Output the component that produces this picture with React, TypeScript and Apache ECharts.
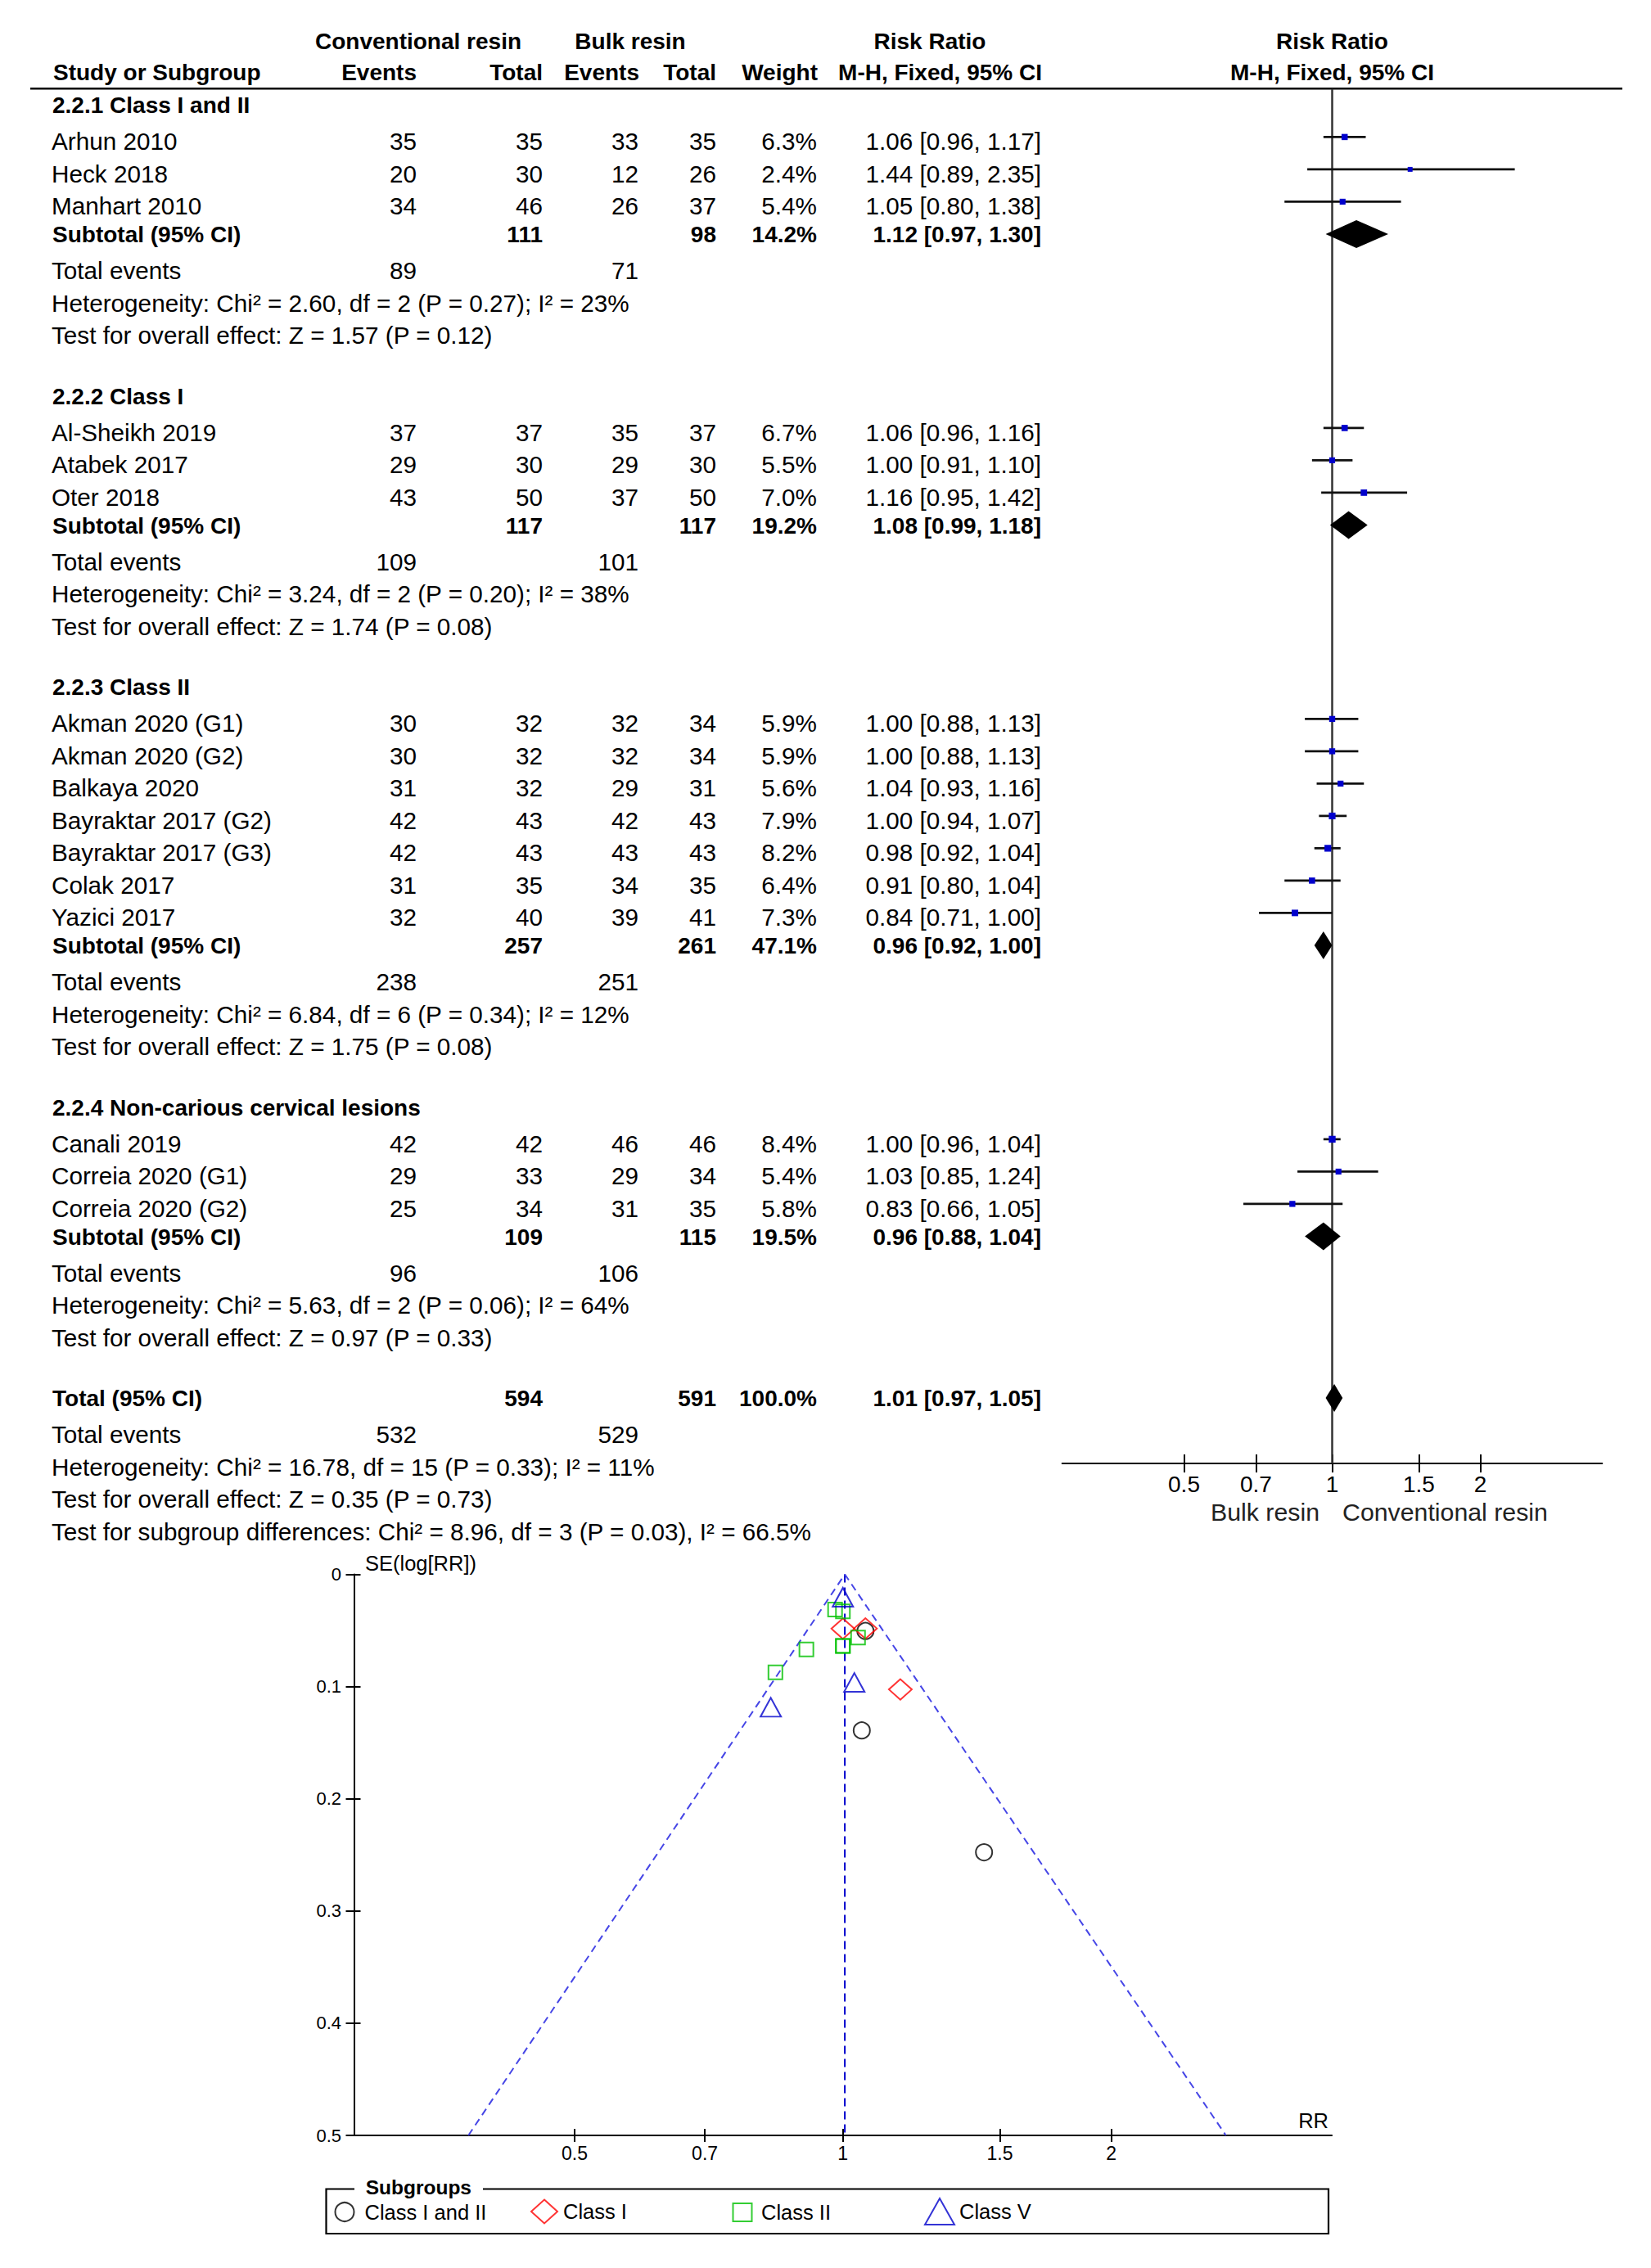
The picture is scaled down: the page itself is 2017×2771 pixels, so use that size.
import React, { useEffect, useRef } from "react";
import * as echarts from "echarts";

// ---------------- DATA ----------------
const GROUP_TITLES = [
  "2.2.1 Class I and II",
  "2.2.2 Class I",
  "2.2.3 Class II",
  "2.2.4 Non-carious cervical lesions",
];
const STUDY_NAMES = [
  "Arhun 2010", "Heck 2018", "Manhart 2010",
  "Al-Sheikh 2019", "Atabek 2017", "Oter 2018",
  "Akman 2020 (G1)", "Akman 2020 (G2)", "Balkaya 2020", "Bayraktar 2017 (G2)", "Bayraktar 2017 (G3)", "Colak 2017", "Yazici 2017",
  "Canali 2019", "Correia 2020 (G1)", "Correia 2020 (G2)",
];
const STUDY_GROUP = [0, 0, 0, 1, 1, 1, 2, 2, 2, 2, 2, 2, 2, 3, 3, 3];
const CONV_EVENTS = [35, 20, 34, 37, 29, 43, 30, 30, 31, 42, 42, 31, 32, 42, 29, 25];
const CONV_TOTAL = [35, 30, 46, 37, 30, 50, 32, 32, 32, 43, 43, 35, 40, 42, 33, 34];
const BULK_EVENTS = [33, 12, 26, 35, 29, 37, 32, 32, 29, 42, 43, 34, 39, 46, 29, 31];
const BULK_TOTAL = [35, 26, 37, 37, 30, 50, 34, 34, 31, 43, 43, 35, 41, 46, 34, 35];
const WEIGHTS = [6.3, 2.4, 5.4, 6.7, 5.5, 7.0, 5.9, 5.9, 5.6, 7.9, 8.2, 6.4, 7.3, 8.4, 5.4, 5.8];
const RR = [1.06, 1.44, 1.05, 1.06, 1.0, 1.16, 1.0, 1.0, 1.04, 1.0, 0.98, 0.91, 0.84, 1.0, 1.03, 0.83];
const CI_LO = [0.96, 0.89, 0.8, 0.96, 0.91, 0.95, 0.88, 0.88, 0.93, 0.94, 0.92, 0.8, 0.71, 0.96, 0.85, 0.66];
const CI_HI = [1.17, 2.35, 1.38, 1.16, 1.1, 1.42, 1.13, 1.13, 1.16, 1.07, 1.04, 1.04, 1.0, 1.04, 1.24, 1.05];

const SUB_CONV_TOTAL = [111, 117, 257, 109];
const SUB_BULK_TOTAL = [98, 117, 261, 115];
const SUB_WEIGHT = [14.2, 19.2, 47.1, 19.5];
const SUB_RR = [1.12, 1.08, 0.96, 0.96];
const SUB_LO = [0.97, 0.99, 0.92, 0.88];
const SUB_HI = [1.3, 1.18, 1.0, 1.04];
const SUB_CONV_EVENTS = [89, 109, 238, 96];
const SUB_BULK_EVENTS = [71, 101, 251, 106];
const SUB_HET = [
  "Heterogeneity: Chi² = 2.60, df = 2 (P = 0.27); I² = 23%",
  "Heterogeneity: Chi² = 3.24, df = 2 (P = 0.20); I² = 38%",
  "Heterogeneity: Chi² = 6.84, df = 6 (P = 0.34); I² = 12%",
  "Heterogeneity: Chi² = 5.63, df = 2 (P = 0.06); I² = 64%",
];
const SUB_TEST = [
  "Test for overall effect: Z = 1.57 (P = 0.12)",
  "Test for overall effect: Z = 1.74 (P = 0.08)",
  "Test for overall effect: Z = 1.75 (P = 0.08)",
  "Test for overall effect: Z = 0.97 (P = 0.33)",
];
const TOTAL_CONV = 594;
const TOTAL_BULK = 591;
const TOTAL_WEIGHT = 100.0;
const TOTAL_RR = 1.01;
const TOTAL_LO = 0.97;
const TOTAL_HI = 1.05;
const TOTAL_CONV_EVENTS = 532;
const TOTAL_BULK_EVENTS = 529;
const TOTAL_HET = "Heterogeneity: Chi² = 16.78, df = 15 (P = 0.33); I² = 11%";
const TOTAL_TEST = "Test for overall effect: Z = 0.35 (P = 0.73)";
const SUBGROUP_DIFF = "Test for subgroup differences: Chi² = 8.96, df = 3 (P = 0.03), I² = 66.5%";

const FOREST_TICKS = [0.5, 0.7, 1, 1.5, 2];
const FOREST_TICK_LABELS = ["0.5", "0.7", "1", "1.5", "2"];
const FUNNEL_X_TICKS = [0.5, 0.7, 1, 1.5, 2];
const FUNNEL_X_TICK_LABELS = ["0.5", "0.7", "1", "1.5", "2"];
const FUNNEL_SE_MAX = 0.5;
const FUNNEL_SE_STEP = 0.1;
const POOLED_RR = 1.005; // funnel apex
const FUNNEL_LIMIT_LO = 0.38; // RR at SE = 0.5, left limit
const FUNNEL_LIMIT_HI = 2.69; // RR at SE = 0.5, right limit

const SUBGROUP_NAMES = ["Class I and II", "Class I", "Class II", "Class V"];

// ---------------- STYLE / LAYOUT ----------------
const FONT = '"Liberation Sans", Arial, Helvetica, sans-serif';
const SUBGROUP_SYMBOLS = ["circle", "diamond", "rect", "triangle"];
const SUBGROUP_COLORS = ["#000000", "#ff0000", "#00c000", "#0000cc"];
const SUBGROUP_SIZES = [[20, 20], [28, 25], [17, 17], [25, 23]];
const LEGEND_ICON = [[25, 23], [32, 29], [23, 22], [36, 32]];
const LEGEND_CENTER_X = [421, 664, 906, 1147];
const LEGEND_TEXT_PAD = [7, 2, 6.5, 1];

const ROW0 = 167.4;
const PITCH = 39.5;
const YMIN = -1.5;
const YMAX = 41.03;
const rowY = (r: number) => ROW0 + PITCH * r;
const LN_MAX = 1.263;

const FOREST_LEFT = 1297.7;
const FOREST_W = 659.6;
const FOREST_TOP = rowY(YMIN);
const FOREST_H = (YMAX - YMIN) * PITCH;

const FUN_LEFT = 432.5;
const FUN_TOP = 1923.5;
const FUN_W = 1194.5;
const FUN_H = 685.5;

const COL = { name: 63, ce: 509, ct: 663, be: 780, bt: 875, w: 998, ci: 1272 };
const REG_SIZE = 29.7;
const BOLD_SIZE = 28;

const fmtCI = (r: number, lo: number, hi: number) => `${r.toFixed(2)} [${lo.toFixed(2)}, ${hi.toFixed(2)}]`;

function buildOption() {
  const texts: any[] = [];
  const addText = (text: string, x: number, y: number, o: any = {}) => {
    const align = o.align || "left";
    texts.push({
      type: "text",
      x,
      y,
      silent: true,
      style: {
        text,
        fill: o.color || "#000",
        fontSize: o.size || (o.bold ? BOLD_SIZE : REG_SIZE),
        fontWeight: o.bold ? "bold" : "normal",
        fontFamily: FONT,
        align,
        verticalAlign: "middle",
        textAlign: align,
        textVerticalAlign: "middle",
      },
    });
  };
  const REG = 5.5;
  const BLD = 1;

  // Headers
  addText("Conventional resin", 511, 50, { bold: true, align: "center" });
  addText("Bulk resin", 770, 50, { bold: true, align: "center" });
  addText("Risk Ratio", 1136, 50, { bold: true, align: "center" });
  addText("Risk Ratio", 1627.5, 50, { bold: true, align: "center" });
  addText("Study or Subgroup", 65, 88, { bold: true });
  addText("Events", COL.ce, 88, { bold: true, align: "right" });
  addText("Total", COL.ct, 88, { bold: true, align: "right" });
  addText("Events", COL.be + 1, 88, { bold: true, align: "right" });
  addText("Total", COL.bt, 88, { bold: true, align: "right" });
  addText("Weight", COL.w + 1, 88, { bold: true, align: "right" });
  addText("M-H, Fixed, 95% CI", COL.ci + 1, 88, { bold: true, align: "right" });
  addText("M-H, Fixed, 95% CI", 1627.5, 88, { bold: true, align: "center" });

  const studyData: any[] = [];
  const diamondData: any[] = [];
  let r = -1;
  for (let g = 0; g < GROUP_TITLES.length; g++) {
    addText(GROUP_TITLES[g], 64, rowY(r) + BLD, { bold: true });
    r++;
    for (let i = 0; i < STUDY_NAMES.length; i++) {
      if (STUDY_GROUP[i] !== g) continue;
      const y = rowY(r) + REG;
      addText(STUDY_NAMES[i], COL.name, y);
      addText(String(CONV_EVENTS[i]), COL.ce, y, { align: "right" });
      addText(String(CONV_TOTAL[i]), COL.ct, y, { align: "right" });
      addText(String(BULK_EVENTS[i]), COL.be, y, { align: "right" });
      addText(String(BULK_TOTAL[i]), COL.bt, y, { align: "right" });
      addText(`${WEIGHTS[i].toFixed(1)}%`, COL.w, y, { align: "right" });
      addText(fmtCI(RR[i], CI_LO[i], CI_HI[i]), COL.ci, y, { align: "right" });
      studyData.push([Math.log(CI_LO[i]), Math.log(CI_HI[i]), r, Math.log(RR[i]), WEIGHTS[i]]);
      r++;
    }
    const ys = rowY(r) + BLD;
    addText("Subtotal (95% CI)", 64, ys, { bold: true });
    addText(String(SUB_CONV_TOTAL[g]), COL.ct, ys, { bold: true, align: "right" });
    addText(String(SUB_BULK_TOTAL[g]), COL.bt, ys, { bold: true, align: "right" });
    addText(`${SUB_WEIGHT[g].toFixed(1)}%`, COL.w, ys, { bold: true, align: "right" });
    addText(fmtCI(SUB_RR[g], SUB_LO[g], SUB_HI[g]), COL.ci, ys, { bold: true, align: "right" });
    diamondData.push([Math.log(SUB_LO[g]), Math.log(SUB_RR[g]), Math.log(SUB_HI[g]), r]);
    r++;
    addText("Total events", COL.name, rowY(r) + REG);
    addText(String(SUB_CONV_EVENTS[g]), COL.ce, rowY(r) + REG, { align: "right" });
    addText(String(SUB_BULK_EVENTS[g]), COL.be, rowY(r) + REG, { align: "right" });
    r++;
    addText(SUB_HET[g], COL.name, rowY(r) + REG);
    r++;
    addText(SUB_TEST[g], COL.name, rowY(r) + REG);
    r++;
    r++; // blank
  }
  const yt = rowY(r) + BLD;
  addText("Total (95% CI)", 64, yt, { bold: true });
  addText(String(TOTAL_CONV), COL.ct, yt, { bold: true, align: "right" });
  addText(String(TOTAL_BULK), COL.bt, yt, { bold: true, align: "right" });
  addText(`${TOTAL_WEIGHT.toFixed(1)}%`, COL.w, yt, { bold: true, align: "right" });
  addText(fmtCI(TOTAL_RR, TOTAL_LO, TOTAL_HI), COL.ci, yt, { bold: true, align: "right" });
  diamondData.push([Math.log(TOTAL_LO), Math.log(TOTAL_RR), Math.log(TOTAL_HI), r]);
  r++;
  addText("Total events", COL.name, rowY(r) + REG);
  addText(String(TOTAL_CONV_EVENTS), COL.ce, rowY(r) + REG, { align: "right" });
  addText(String(TOTAL_BULK_EVENTS), COL.be, rowY(r) + REG, { align: "right" });
  r++;
  addText(TOTAL_HET, COL.name, rowY(r) + REG);
  r++;
  addText(TOTAL_TEST, COL.name, rowY(r) + REG);
  r++;
  addText(SUBGROUP_DIFF, COL.name, rowY(r) + REG);

  // forest axis captions
  addText("Bulk resin", 1612, 1847.5, { align: "right", color: "#222", size: 30.3 });
  addText("Conventional resin", 1640, 1847.5, { color: "#222", size: 30.3 });

  // funnel captions
  addText("SE(log[RR])", 446, 1910, { size: 25.5 });
  addText("RR", 1623, 2591, { size: 25.5, align: "right" });

  const graphics: any[] = [
    {
      type: "line",
      silent: true,
      shape: { x1: 37, y1: 108.3, x2: 1982, y2: 108.3 },
      style: { stroke: "#000", lineWidth: 2.5 },
    },
    {
      type: "rect",
      silent: true,
      shape: { x: 398.5, y: 2674.5, width: 1224.5, height: 54.5 },
      style: { fill: "none", stroke: "#000", lineWidth: 2.2 },
    },
    {
      type: "rect",
      silent: true,
      shape: { x: 433, y: 2670, width: 157, height: 9 },
      style: { fill: "#fff" },
    },
    ...texts,
    {
      type: "text",
      x: 446.7,
      y: 2672.3,
      silent: true,
      style: {
        text: "Subgroups",
        fill: "#000",
        fontSize: 24.5,
        fontWeight: "bold",
        fontFamily: FONT,
        align: "left",
        verticalAlign: "middle",
        textAlign: "left",
        textVerticalAlign: "middle",
      },
    },
  ];

  const forestTickVals = FOREST_TICKS.map((t) => Math.log(t));
  const funnelTickVals = FUNNEL_X_TICKS.map((t) => Math.log(t));
  const labelFrom = (vals: number[], labels: string[]) => (v: number) => {
    const i = vals.findIndex((t) => Math.abs(t - v) < 1e-6);
    return i >= 0 ? labels[i] : "";
  };

  const gridBase = { containLabel: false, outerBoundsMode: "none" } as any;

  const funnelSeries = SUBGROUP_NAMES.map((name, g) => ({
    type: "scatter",
    name,
    xAxisIndex: 2,
    yAxisIndex: 2,
    symbol: SUBGROUP_SYMBOLS[g],
    symbolSize: SUBGROUP_SIZES[g],
    itemStyle: { color: "rgba(0,0,0,0)", borderColor: SUBGROUP_COLORS[g], borderWidth: 2 },
    emphasis: { disabled: true },
    data: STUDY_NAMES.map((_, i) => i)
      .filter((i) => STUDY_GROUP[i] === g)
      .map((i) => [Math.log(RR[i]), (Math.log(CI_HI[i]) - Math.log(CI_LO[i])) / (2 * 1.96)]),
    z: 5,
  }));

  const legends = SUBGROUP_NAMES.map((name, g) => ({
    show: true,
    selectedMode: false,
    orient: "horizontal",
    left: LEGEND_CENTER_X[g] - LEGEND_ICON[g][0] / 2,
    top: 2701 - LEGEND_ICON[g][1] / 2,
    padding: 0,
    itemWidth: LEGEND_ICON[g][0],
    itemHeight: LEGEND_ICON[g][1],
    data: [
      {
        name,
        icon: SUBGROUP_SYMBOLS[g],
        itemStyle: { color: "rgba(0,0,0,0)", borderColor: SUBGROUP_COLORS[g], borderWidth: 2 },
      },
    ],
    textStyle: { fontSize: 25.5, color: "#000", fontFamily: FONT, padding: [0, 0, 0, LEGEND_TEXT_PAD[g]] },
  }));

  return {
    animation: false,
    backgroundColor: "#fff",
    textStyle: { fontFamily: FONT },
    legend: legends,
    grid: [
      { ...gridBase, left: FOREST_LEFT, top: FOREST_TOP, width: FOREST_W, height: FOREST_H },
      { ...gridBase, left: FOREST_LEFT, top: FOREST_TOP, width: FOREST_W, height: FOREST_H },
      { ...gridBase, left: FUN_LEFT, top: FUN_TOP, width: FUN_W, height: FUN_H },
      { ...gridBase, left: FUN_LEFT, top: FUN_TOP, width: FUN_W, height: FUN_H },
    ],
    xAxis: [
      {
        gridIndex: 0,
        type: "value",
        min: -LN_MAX,
        max: LN_MAX,
        position: "bottom",
        splitLine: { show: false },
        axisLine: { show: true, onZero: false, lineStyle: { color: "#000", width: 2 } },
        axisTick: { show: true, inside: true, length: 11, customValues: forestTickVals, lineStyle: { color: "#000", width: 2 } },
        axisLabel: {
          show: true,
          customValues: forestTickVals,
          formatter: labelFrom(forestTickVals, FOREST_TICK_LABELS),
          fontSize: 28,
          color: "#000",
          margin: 11,
        },
      },
      {
        gridIndex: 1,
        type: "value",
        min: -LN_MAX,
        max: LN_MAX,
        position: "bottom",
        splitLine: { show: false },
        axisLine: { show: false, onZero: false },
        axisTick: { show: true, inside: false, length: 11, customValues: forestTickVals, lineStyle: { color: "#000", width: 2 } },
        axisLabel: { show: false },
      },
      {
        gridIndex: 2,
        type: "value",
        min: -LN_MAX,
        max: LN_MAX,
        position: "bottom",
        splitLine: { show: false },
        axisLine: { show: true, onZero: false, lineStyle: { color: "#000", width: 2.2 } },
        axisTick: { show: true, inside: true, length: 8, customValues: funnelTickVals, lineStyle: { color: "#000", width: 2 } },
        axisLabel: {
          show: true,
          customValues: funnelTickVals,
          formatter: labelFrom(funnelTickVals, FUNNEL_X_TICK_LABELS),
          fontSize: 23,
          color: "#000",
          margin: 10,
        },
      },
      {
        gridIndex: 3,
        type: "value",
        min: -LN_MAX,
        max: LN_MAX,
        position: "bottom",
        splitLine: { show: false },
        axisLine: { show: false, onZero: false },
        axisTick: { show: true, inside: false, length: 8, customValues: funnelTickVals, lineStyle: { color: "#000", width: 2 } },
        axisLabel: { show: false },
      },
    ],
    yAxis: [
      { gridIndex: 0, type: "value", inverse: true, min: YMIN, max: YMAX, show: false },
      { gridIndex: 1, type: "value", inverse: true, min: YMIN, max: YMAX, show: false },
      {
        gridIndex: 2,
        type: "value",
        inverse: true,
        min: 0,
        max: FUNNEL_SE_MAX,
        interval: FUNNEL_SE_STEP,
        splitLine: { show: false },
        axisLine: { show: true, onZero: false, lineStyle: { color: "#000", width: 2 } },
        axisTick: { show: true, inside: false, length: 10, lineStyle: { color: "#000", width: 2 } },
        axisLabel: {
          show: true,
          fontSize: 22,
          color: "#000",
          margin: 15.5,
          formatter: (v: number) => String(+v.toFixed(1)),
        },
      },
      {
        gridIndex: 3,
        type: "value",
        inverse: true,
        min: 0,
        max: FUNNEL_SE_MAX,
        interval: FUNNEL_SE_STEP,
        splitLine: { show: false },
        axisLine: { show: false, onZero: false },
        axisTick: { show: true, inside: true, length: 8, lineStyle: { color: "#000", width: 2 } },
        axisLabel: { show: false },
      },
    ],
    series: [
      {
        type: "line",
        name: "null-line",
        xAxisIndex: 0,
        yAxisIndex: 0,
        symbol: "none",
        silent: true,
        lineStyle: { color: "#333", width: 2.5 },
        data: [
          [0, YMIN],
          [0, YMAX],
        ],
        z: 1,
      },
      {
        type: "custom",
        name: "studies",
        xAxisIndex: 0,
        yAxisIndex: 0,
        silent: true,
        z: 3,
        renderItem: (params: any, api: any) => {
          const row = api.value(2);
          const lo = api.coord([api.value(0), row]);
          const hi = api.coord([api.value(1), row]);
          const c = api.coord([api.value(3), row]);
          const s = 5 + 0.4 * api.value(4);
          return {
            type: "group",
            children: [
              { type: "line", shape: { x1: lo[0], y1: lo[1], x2: hi[0], y2: hi[1] }, style: { stroke: "#111", lineWidth: 2.7 } },
              { type: "rect", shape: { x: c[0] - s / 2, y: c[1] - s / 2, width: s, height: s }, style: { fill: "#0000cc" } },
            ],
          };
        },
        data: studyData,
      },
      {
        type: "custom",
        name: "diamonds",
        xAxisIndex: 0,
        yAxisIndex: 0,
        silent: true,
        z: 3,
        renderItem: (params: any, api: any) => {
          const row = api.value(3);
          const l = api.coord([api.value(0), row]);
          const m = api.coord([api.value(1), row]);
          const rr = api.coord([api.value(2), row]);
          const h = 17;
          return {
            type: "polygon",
            shape: { points: [[l[0], l[1]], [m[0], m[1] - h], [rr[0], rr[1]], [m[0], m[1] + h]] },
            style: { fill: "#000" },
          };
        },
        data: diamondData,
      },
      {
        type: "line",
        name: "pooled",
        xAxisIndex: 2,
        yAxisIndex: 2,
        symbol: "none",
        silent: true,
        lineStyle: { color: "#0000cc", width: 2, type: [10, 6] },
        data: [
          [Math.log(POOLED_RR), 0],
          [Math.log(POOLED_RR), FUNNEL_SE_MAX],
        ],
        z: 2,
      },
      {
        type: "line",
        name: "limits",
        xAxisIndex: 2,
        yAxisIndex: 2,
        symbol: "none",
        silent: true,
        lineStyle: { color: "#4646e6", width: 2, type: [9, 6] },
        data: [
          [Math.log(FUNNEL_LIMIT_LO), FUNNEL_SE_MAX],
          [Math.log(POOLED_RR), 0],
          [Math.log(FUNNEL_LIMIT_HI), FUNNEL_SE_MAX],
        ],
        z: 2,
      },
      ...funnelSeries,
    ],
    graphic: { elements: graphics },
  };
}

export default function App() {
  const ref = useRef<HTMLDivElement>(null);
  useEffect(() => {
    if (!ref.current) return;
    const chart = echarts.init(ref.current, undefined, { renderer: "svg" });
    chart.setOption(buildOption() as any);
    return () => chart.dispose();
  }, []);
  return (
    <div
      ref={ref}
      style={{ position: "absolute", left: 0, top: 0, width: 2017, height: 2771, background: "#fff" }}
    />
  );
}
